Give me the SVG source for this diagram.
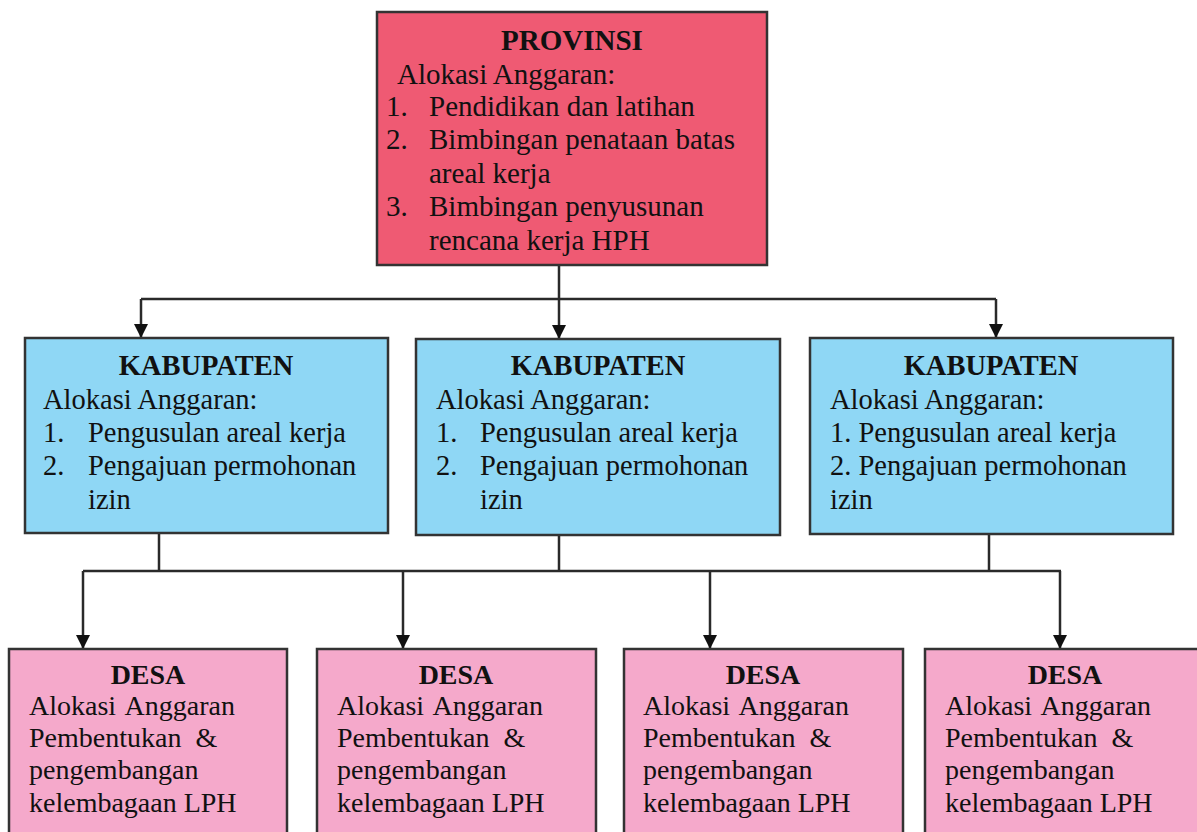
<svg xmlns="http://www.w3.org/2000/svg" width="1197" height="832" viewBox="0 0 1197 832">
<style>
  .box { stroke: #333; stroke-width: 2.5; }
  .prov { fill: #EF5A73; }
  .kab { fill: #8FD7F5; }
  .desa { fill: #F5A9CB; }
  text { font-family: "Liberation Serif", "Times New Roman", serif; fill: #111; }
  .t { font-weight: bold; text-anchor: middle; }
  .fp { font-size: 29px; }
  .fk { font-size: 28.5px; }
  .fd { font-size: 28px; }
  .ln { fill: none; stroke: #2a2a2a; stroke-width: 2.5; }
</style>
<defs>
  <marker id="arr" viewBox="0 0 14 14" refX="14" refY="7" markerWidth="14" markerHeight="14" markerUnits="userSpaceOnUse" orient="auto">
    <path d="M0,0 L14,7 L0,14 Z" fill="#111"/>
  </marker>
</defs>
<rect width="1197" height="832" fill="#fff"/>

<g id="connectors">
  <path class="ln" d="M559,265 V299 M141,299 H996"/>
  <path class="ln" d="M141,299 V338" marker-end="url(#arr)"/>
  <path class="ln" d="M559,299 V339" marker-end="url(#arr)"/>
  <path class="ln" d="M996,299 V338" marker-end="url(#arr)"/>
  <path class="ln" d="M159,533 V571 M559,535 V571 M989,535 V571 M83,571 H1061"/>
  <path class="ln" d="M83,571 V649" marker-end="url(#arr)"/>
  <path class="ln" d="M403,571 V649" marker-end="url(#arr)"/>
  <path class="ln" d="M710,571 V649" marker-end="url(#arr)"/>
  <path class="ln" d="M1060,571 V649" marker-end="url(#arr)"/>
</g>

<g id="provinsi">
  <rect class="box prov" x="377" y="12" width="390" height="253"/>
  <text class="t fp" x="572" y="50">PROVINSI</text>
  <text class="fp" x="397" y="84">Alokasi Anggaran:</text>
  <text class="fp"><tspan x="386" y="116">1.</tspan><tspan x="429">Pendidikan dan latihan</tspan></text>
  <text class="fp"><tspan x="386" y="149">2.</tspan><tspan x="429">Bimbingan penataan batas</tspan></text>
  <text class="fp" x="429" y="183">areal kerja</text>
  <text class="fp"><tspan x="386" y="216">3.</tspan><tspan x="429">Bimbingan penyusunan</tspan></text>
  <text class="fp" x="429" y="250">rencana kerja HPH</text>
</g>

<g id="kabupaten1">
  <rect class="box kab" x="25" y="338" width="363" height="195"/>
  <text class="t fk" x="206" y="375">KABUPATEN</text>
  <text class="fk" x="43" y="409">Alokasi Anggaran:</text>
  <text class="fk"><tspan x="43" y="442">1.</tspan><tspan x="88">Pengusulan areal kerja</tspan></text>
  <text class="fk"><tspan x="43" y="475">2.</tspan><tspan x="88">Pengajuan permohonan</tspan></text>
  <text class="fk" x="88" y="509">izin</text>
</g>

<g id="kabupaten2">
  <rect class="box kab" x="416" y="339" width="364" height="196"/>
  <text class="t fk" x="598" y="375">KABUPATEN</text>
  <text class="fk" x="436" y="409">Alokasi Anggaran:</text>
  <text class="fk"><tspan x="436" y="442">1.</tspan><tspan x="480">Pengusulan areal kerja</tspan></text>
  <text class="fk"><tspan x="436" y="475">2.</tspan><tspan x="480">Pengajuan permohonan</tspan></text>
  <text class="fk" x="480" y="509">izin</text>
</g>

<g id="kabupaten3">
  <rect class="box kab" x="810" y="338" width="363" height="196"/>
  <text class="t fk" x="991" y="375">KABUPATEN</text>
  <text class="fk" x="830" y="409">Alokasi Anggaran:</text>
  <text class="fk" x="830" y="442">1. Pengusulan areal kerja</text>
  <text class="fk" x="830" y="475">2. Pengajuan permohonan</text>
  <text class="fk" x="830" y="509">izin</text>
</g>

<g id="desa1">
  <rect class="box desa" x="9" y="649" width="278" height="195"/>
  <text class="t fd" x="148" y="684">DESA</text>
  <text class="fd" x="29" y="715" word-spacing="3">Alokasi Anggaran</text>
  <text class="fd" x="29" y="747" word-spacing="7">Pembentukan &amp;</text>
  <text class="fd" x="29" y="779">pengembangan</text>
  <text class="fd" x="29" y="812">kelembagaan LPH</text>
</g>

<g id="desa2">
  <rect class="box desa" x="317" y="649" width="279" height="195"/>
  <text class="t fd" x="456" y="684">DESA</text>
  <text class="fd" x="337" y="715" word-spacing="3">Alokasi Anggaran</text>
  <text class="fd" x="337" y="747" word-spacing="7">Pembentukan &amp;</text>
  <text class="fd" x="337" y="779">pengembangan</text>
  <text class="fd" x="337" y="812">kelembagaan LPH</text>
</g>

<g id="desa3">
  <rect class="box desa" x="624" y="649" width="279" height="195"/>
  <text class="t fd" x="763" y="684">DESA</text>
  <text class="fd" x="643" y="715" word-spacing="3">Alokasi Anggaran</text>
  <text class="fd" x="643" y="747" word-spacing="7">Pembentukan &amp;</text>
  <text class="fd" x="643" y="779">pengembangan</text>
  <text class="fd" x="643" y="812">kelembagaan LPH</text>
</g>

<g id="desa4">
  <rect class="box desa" x="925" y="649" width="279" height="195"/>
  <text class="t fd" x="1065" y="684">DESA</text>
  <text class="fd" x="945" y="715" word-spacing="3">Alokasi Anggaran</text>
  <text class="fd" x="945" y="747" word-spacing="7">Pembentukan &amp;</text>
  <text class="fd" x="945" y="779">pengembangan</text>
  <text class="fd" x="945" y="812">kelembagaan LPH</text>
</g>
</svg>
